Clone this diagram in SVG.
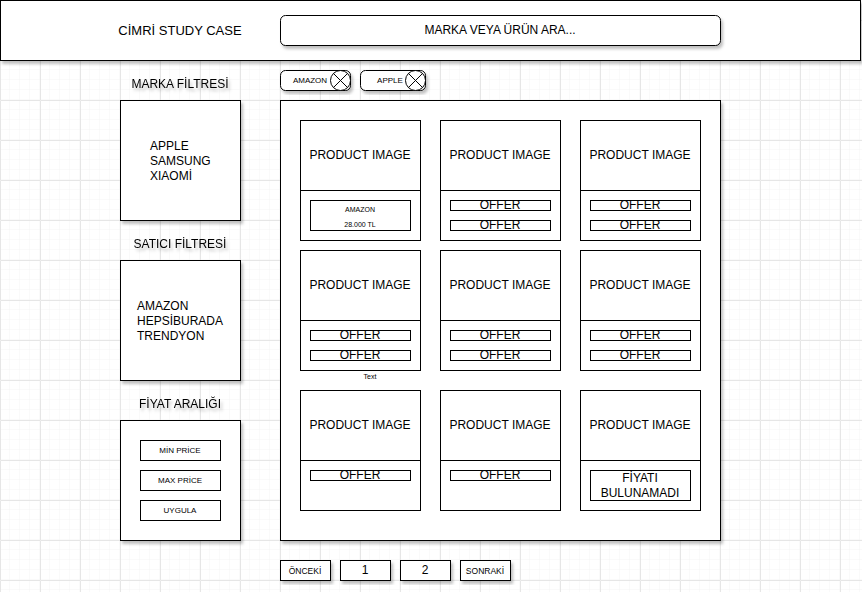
<svg xmlns="http://www.w3.org/2000/svg" width="862" height="592" viewBox="0 0 862 592">
<style>
.b{fill:#fff;stroke:#000;stroke-width:1}
.t{font-family:"Liberation Sans",Arial,sans-serif;fill:#000;text-anchor:middle;dominant-baseline:central}
.l{font-family:"Liberation Sans",Arial,sans-serif;fill:#000;font-size:12px}
.s{filter:url(#sh)}
</style>
<defs>
<pattern id="minor" width="10" height="10" patternUnits="userSpaceOnUse">
<path d="M10 0V10M0 10H10" fill="none" stroke="#f4f4f4" stroke-width="1"/>
</pattern>
<pattern id="major" x="0" y="20" width="40" height="40" patternUnits="userSpaceOnUse">
<path d="M0 0V40M0 0H40" fill="none" stroke="#e6e6e6" stroke-width="1" transform="translate(0.5,0.5)"/>
</pattern>
<filter id="sh" x="-10%" y="-10%" width="130%" height="130%">
<feDropShadow dx="2" dy="3" stdDeviation="1.5" flood-color="#000" flood-opacity="0.25"/>
</filter>
<g id="offer">
<rect class="b" x="0.5" y="0.5" width="100" height="10"/>
<text class="t" x="50" y="5" font-size="12">OFFER</text>
</g>
<g id="card">
<rect class="b" x="0.5" y="0.5" width="120" height="120"/>
<line x1="0.5" y1="70.5" x2="120.5" y2="70.5" stroke="#000"/>
<text class="t" x="60" y="35" font-size="12">PRODUCT IMAGE</text>
</g>
</defs>
<rect width="862" height="592" fill="#fff"/>
<rect width="862" height="592" fill="url(#minor)"/>
<rect width="862" height="592" fill="url(#major)"/>

<g id="header">
<rect class="b s" x="0.5" y="0.5" width="860" height="60"/>
<text class="t" x="180" y="30" font-size="13">CİMRİ STUDY CASE</text>
</g>
<g id="search">
<rect class="b s" x="280.5" y="15.5" width="440" height="30" rx="5"/>
<text class="t" x="500" y="30" font-size="12">MARKA VEYA ÜRÜN ARA...</text>
</g>

<g id="chip-amazon">
<rect class="b s" x="280.5" y="70.5" width="70" height="20" rx="5"/>
<text class="t" x="310" y="80" font-size="8">AMAZON</text>
<circle class="b" cx="340.5" cy="80.5" r="10"/>
<path d="M333.4 73.4L347.6 87.6M347.6 73.4L333.4 87.6" stroke="#000"/>
</g>
<g id="chip-apple">
<rect class="b s" x="360.5" y="70.5" width="65" height="20" rx="5"/>
<text class="t" x="390" y="80" font-size="8">APPLE</text>
<circle class="b" cx="415.5" cy="80.5" r="10"/>
<path d="M408.4 73.4L422.6 87.6M422.6 73.4L408.4 87.6" stroke="#000"/>
</g>

<g id="brand-filter">
<text class="t s" x="180" y="84" font-size="12">MARKA FİLTRESİ</text>
<rect class="b s" x="120.5" y="100.5" width="120" height="120"/>
<text class="l"><tspan x="150" y="149.5">APPLE</tspan><tspan x="150" y="164.5">SAMSUNG</tspan><tspan x="150" y="179.5">XIAOMİ</tspan></text>
</g>
<g id="seller-filter">
<text class="t s" x="180" y="244" font-size="12">SATICI FİLTRESİ</text>
<rect class="b s" x="120.5" y="260.5" width="120" height="120"/>
<text class="l"><tspan x="137" y="309.5">AMAZON</tspan><tspan x="137" y="324.5">HEPSİBURADA</tspan><tspan x="137" y="339.5">TRENDYON</tspan></text>
</g>
<g id="price-filter">
<text class="t s" x="180" y="404" font-size="12">FİYAT ARALIĞI</text>
<rect class="b s" x="120.5" y="420.5" width="120" height="120"/>
<rect class="b" x="140.5" y="440.5" width="80" height="20"/>
<text class="t" x="180" y="450" font-size="8">MİN PRİCE</text>
<rect class="b" x="140.5" y="470.5" width="80" height="20"/>
<text class="t" x="180" y="480" font-size="8">MAX PRİCE</text>
<rect class="b" x="140.5" y="500.5" width="80" height="20"/>
<text class="t" x="180" y="510" font-size="8">UYGULA</text>
</g>

<g id="products-panel">
<rect class="b s" x="280.5" y="100.5" width="440" height="440"/>
</g>

<g id="card-1-1" transform="translate(300,120)">
<use href="#card"/>
<rect class="b" x="10.5" y="80.5" width="100" height="30"/>
<text class="t" x="60" y="89" font-size="7">AMAZON</text>
<text class="t" x="60" y="104" font-size="7">28.000 TL</text>
</g>
<g id="card-1-2" transform="translate(440,120)">
<use href="#card"/><use href="#offer" x="10" y="80"/><use href="#offer" x="10" y="100"/>
</g>
<g id="card-1-3" transform="translate(580,120)">
<use href="#card"/><use href="#offer" x="10" y="80"/><use href="#offer" x="10" y="100"/>
</g>
<g id="card-2-1" transform="translate(300,250)">
<use href="#card"/><use href="#offer" x="10" y="80"/><use href="#offer" x="10" y="100"/>
</g>
<g id="card-2-2" transform="translate(440,250)">
<use href="#card"/><use href="#offer" x="10" y="80"/><use href="#offer" x="10" y="100"/>
</g>
<g id="card-2-3" transform="translate(580,250)">
<use href="#card"/><use href="#offer" x="10" y="80"/><use href="#offer" x="10" y="100"/>
</g>
<g id="text-label">
<text class="t" x="370" y="376" font-size="7">Text</text>
</g>
<g id="card-3-1" transform="translate(300,390)">
<use href="#card"/><use href="#offer" x="10" y="80"/>
</g>
<g id="card-3-2" transform="translate(440,390)">
<use href="#card"/><use href="#offer" x="10" y="80"/>
</g>
<g id="card-3-3" transform="translate(580,390)">
<use href="#card"/>
<rect class="b" x="10.5" y="80.5" width="100" height="30"/>
<text class="t" x="60" y="88" font-size="12">FİYATI</text>
<text class="t" x="60" y="103" font-size="12">BULUNAMADI</text>
</g>

<g id="pagination">
<rect class="b s" x="280.5" y="560.5" width="50" height="20"/>
<text class="t" x="305" y="571" font-size="8.5">ÖNCEKİ</text>
<rect class="b s" x="340.5" y="560.5" width="50" height="20"/>
<text class="t" x="365" y="570" font-size="12">1</text>
<rect class="b s" x="400.5" y="560.5" width="50" height="20"/>
<text class="t" x="425" y="570" font-size="12">2</text>
<rect class="b s" x="460.5" y="560.5" width="50" height="20"/>
<text class="t" x="485" y="571" font-size="8.5">SONRAKİ</text>
</g>
<g id="connectors"/>
</svg>
